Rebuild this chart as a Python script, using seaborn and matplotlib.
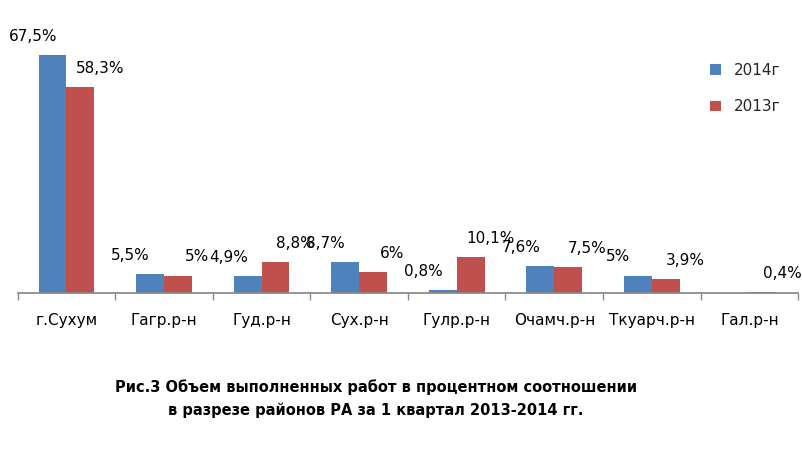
import pandas as pd
import matplotlib.pyplot as plt
import seaborn as sns

districts = ["г.Сухум", "Гагр.р-н", "Гуд.р-н", "Сух.р-н", "Гулр.р-н", "Очамч.р-н", "Ткуарч.р-н", "Гал.р-н"]
v2014 = [67.5, 5.5, 4.9, 8.7, 0.8, 7.6, 5.0, 0.0]
v2013 = [58.3, 5.0, 8.8, 6.0, 10.1, 7.5, 3.9, 0.4]
lbl2014 = ["67,5%", "5,5%", "4,9%", "8,7%", "0,8%", "7,6%", "5%", ""]
lbl2013 = ["58,3%", "5%", "8,8%", "6%", "10,1%", "7,5%", "3,9%", "0,4%"]

df = pd.DataFrame({
    "Район": districts * 2,
    "Значение": v2014 + v2013,
    "Год": ["2014г"] * 8 + ["2013г"] * 8,
})

sns.set_theme(style="white")
plt.rcParams['font.family'] = ['DejaVu Sans']

fig = plt.figure(figsize=(8.03, 4.61), dpi=100)
ax = fig.add_axes([0.022, 0.364, 0.972, 0.575])
sns.barplot(data=df, x="Район", y="Значение", hue="Год", ax=ax,
            palette=["#4F81BD", "#C0504D"], width=0.57, saturation=1, linewidth=0)

# подписи смещены в стороны, как в оригинале
for cont, labels, dx in zip(ax.containers, [lbl2014, lbl2013], [-14, 14]):
    for bar, lab in zip(cont, labels):
        if lab:
            ax.annotate(lab, (bar.get_x() + bar.get_width() / 2, bar.get_height()),
                        xytext=(dx, 8), textcoords="offset points",
                        ha="center", va="bottom", fontsize=11, color="black")

ax.set_xlim(-0.5, 7.5)
ax.set_ylim(0, 75)
ax.set_xlabel("")
ax.set_ylabel("")
ax.set_yticks([])
for s in ["top", "right", "left"]:
    ax.spines[s].set_visible(False)
ax.spines["bottom"].set_color("#888888")
ax.set_xticks([i + 0.5 for i in range(-1, 8)], minor=True)
ax.tick_params(axis="x", which="minor", length=5, color="#888888", bottom=True)
ax.tick_params(axis="x", which="major", length=0, labelsize=11, pad=14, labelcolor="black")

ax.legend(loc="upper left", bbox_to_anchor=(0.87, 0.92), frameon=False,
          fontsize=11, handlelength=0.7, handleheight=0.7, labelspacing=1.4)

fig.text(0.468, 0.135, "Рис.3 Объем выполненных работ в процентном соотношении\nв разрезе районов РА за 1 квартал 2013-2014 гг.",
         ha="center", va="center", fontsize=10.5, fontweight="bold", linespacing=1.6, color="black")

fig.savefig("out.png", dpi=100)
